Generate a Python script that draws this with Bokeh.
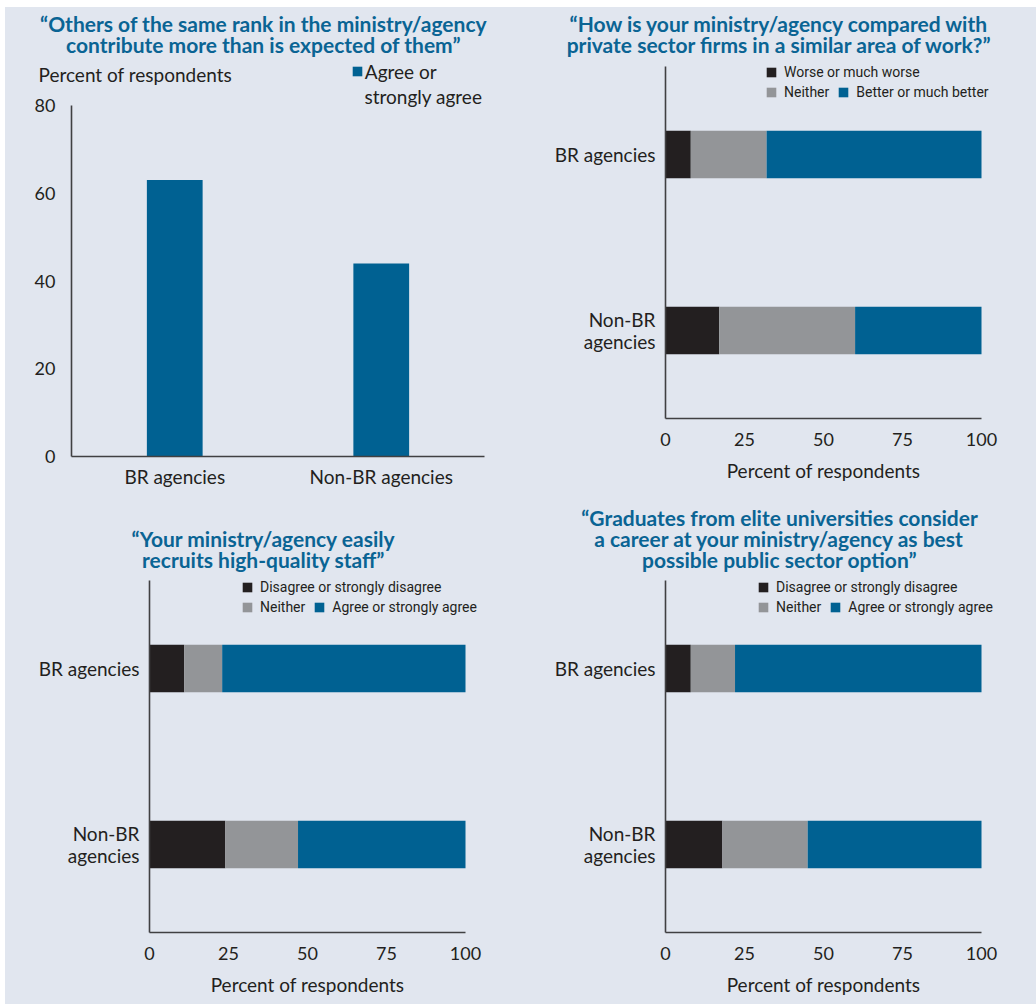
from bokeh.plotting import figure
from bokeh.models import (FixedTicker, Label, Legend, LegendItem,
                          ColumnDataSource, Spacer)
from bokeh.layouts import row, column
from bokeh.embed import file_html
from bokeh.resources import INLINE

# ---------------------------------------------------------------- data
agencies = ["BR agencies", "Non-BR agencies"]
agencies_wrapped = ["BR agencies", "Non-BR\nagencies"]

# "Others of the same rank ... contribute more than is expected of them"
contribute_agree = [63, 44]

# "How is your ministry/agency compared with private sector firms ..."
private_worse = [8, 17]
private_neither = [24, 43]
private_better = [68, 40]

# "Your ministry/agency easily recruits high-quality staff"
recruit_disagree = [11, 24]
recruit_neither = [12, 23]
recruit_agree = [77, 53]

# "Graduates from elite universities consider a career ... best option"
elite_disagree = [8, 18]
elite_neither = [14, 27]
elite_agree = [78, 55]

share_ticks = [0, 20, 40, 60, 80]
pct_ticks = [0, 25, 50, 75, 100]

# ---------------------------------------------------------------- style
BG = "#e1e6ef"
BLUE = "#006192"
GREY = "#939598"
BLACK = "#231f20"
TITLE_BLUE = "#0a6494"
INK = "#231f20"
AXIS = "#404042"
FONT = "Lato"
LEGEND_FONT = "Roboto"
BAR = 0.27


class Panel:
    """One chart cell: the figure fills its cell and the axes sit at fixed
    data locations inside it, so every text can be placed in page pixels."""

    def __init__(self, cell, axes_box, xspan, yspan):
        self.fx0, self.fy0, self.fx1, self.fy1 = cell          # page px
        self.ax0, self.ay0, self.ax1, self.ay1 = axes_box      # left, top, right, bottom
        self.xspan, self.yspan = xspan, yspan
        self.kx = (self.ax1 - self.ax0) / (xspan[1] - xspan[0])
        self.ky = (self.ay1 - self.ay0) / (yspan[1] - yspan[0])
        x_start = xspan[0] - (self.ax0 - self.fx0) / self.kx
        x_end = xspan[1] + (self.fx1 - self.ax1) / self.kx
        y_start = yspan[0] - (self.fy1 - self.ay1) / self.ky
        y_end = yspan[1] + (self.ay0 - self.fy0) / self.ky

        p = figure(width=self.fx1 - self.fx0, height=self.fy1 - self.fy0,
                   x_range=(x_start, x_end), y_range=(y_start, y_end),
                   title=None, output_backend="svg", toolbar_location=None,
                   min_border=0, background_fill_color=BG,
                   border_fill_color=BG, outline_line_color=None)
        if "frame_align" in p.properties():
            p.frame_align = False
        p.grid.grid_line_color = None
        p.xaxis.fixed_location = yspan[0]
        p.xaxis.bounds = xspan
        p.yaxis.fixed_location = xspan[0]
        p.yaxis.bounds = yspan
        for ax in p.axis:
            ax.axis_line_color = AXIS
            ax.axis_line_width = 1.6
            ax.major_tick_line_color = None
            ax.minor_tick_line_color = None
            ax.major_tick_out = 0
            ax.major_tick_in = 0
            ax.minor_tick_out = 0
            ax.minor_tick_in = 0
            ax.major_label_text_font = FONT
            ax.major_label_text_font_size = "18px"
            ax.major_label_text_color = INK
            ax.axis_label_text_font = FONT
            ax.axis_label_text_font_size = "19px"
            ax.axis_label_text_font_style = "normal"
            ax.axis_label_text_color = INK
        self.p = p

    def data(self, sx, sy):
        return (self.xspan[0] + (sx - self.ax0) / self.kx,
                self.yspan[0] + (self.ay1 - sy) / self.ky)

    def offset(self, sx, sy):
        return (sx - self.fx0, self.fy1 - sy)

    def text(self, sx, sy, text, align="left", **kw):
        x, y = self.data(sx, sy)
        style = dict(text_font=FONT, text_font_size="19px", text_color=INK)
        style.update(kw)
        self.p.add_layout(Label(x=x, y=y, text=text, text_align=align,
                                text_baseline="middle", **style))

    def title(self, sx, sy, text):
        self.text(sx, sy, text, align="center", text_font_style="bold",
                  text_font_size="21px", text_color=TITLE_BLUE,
                  text_line_height=0.84)

    def legend_rows(self, rows, sx, first_row_top, standoff, spacing,
                    font=LEGEND_FONT, size="14px"):
        for i, items in enumerate(rows):
            row_bottom = first_row_top + 20 * (i + 1)
            leg = Legend(items=[LegendItem(label=lab, renderers=[r]) for lab, r in items],
                         location=self.offset(sx, row_bottom), orientation="horizontal",
                         glyph_width=12, glyph_height=12, label_height=20,
                         label_width=0, label_standoff=standoff, spacing=spacing,
                         padding=0, margin=0, background_fill_alpha=0,
                         border_line_color=None, label_text_font=font,
                         label_text_font_size=size, label_text_color=INK,
                         label_text_baseline="middle")
            self.p.add_layout(leg)


def stacked_panel(cell, axes_box, title, title_xy, parts, labels, legend_xy):
    pn = Panel(cell, axes_box, (0, 100), (0, len(agencies)))
    p = pn.p
    ypos = [len(agencies) - i - 0.5 for i in range(len(agencies))]
    src = ColumnDataSource(dict(y=ypos, a=parts[0], b=parts[1], c=parts[2]))
    rs = p.hbar_stack(["a", "b", "c"], y="y", height=BAR, source=src,
                      color=[BLACK, GREY, BLUE], line_color=None)

    p.xaxis.ticker = FixedTicker(ticks=pct_ticks)
    p.xaxis.major_label_standoff = 14
    p.xaxis.axis_label = "Percent of respondents"
    p.xaxis.axis_label_standoff = 10
    p.yaxis.ticker = FixedTicker(ticks=ypos)
    p.yaxis.major_label_overrides = {y: lab for y, lab in zip(ypos, agencies_wrapped)}
    p.yaxis.major_label_standoff = 10
    p.yaxis.major_label_text_font_size = "19px"
    p.yaxis.major_label_text_line_height = 0.95

    pn.title(*title_xy, title)
    pn.legend_rows([[(labels[0], rs[0])],
                    [(labels[1], rs[1]), (labels[2], rs[2])]],
                   legend_xy[0], legend_xy[1], standoff=7, spacing=8)
    return p


# ---------------------------------------------------------------- panel 1
pn1 = Panel((5, 7, 518, 500), (71, 105, 484, 456), (0, len(agencies)), (0, 80))
p1 = pn1.p
xpos = [i + 0.5 for i in range(len(agencies))]
bars = p1.vbar(x=xpos, top=contribute_agree, width=BAR, color=BLUE, line_color=None)
p1.xaxis.ticker = FixedTicker(ticks=xpos)
p1.xaxis.major_label_overrides = {x: lab for x, lab in zip(xpos, agencies)}
p1.xaxis.major_label_standoff = 8
p1.xaxis.major_label_text_font_size = "19px"
p1.yaxis.ticker = FixedTicker(ticks=share_ticks)
p1.yaxis.major_label_standoff = 16

pn1.title(263, 33, "\u201cOthers of the same rank in the ministry/agency\n"
                   "contribute more than is expected of them\u201d")
pn1.text(38, 74, "Percent of respondents")
pn1.legend_rows([[("Agree or", bars)]], 350.8, 62.5, standoff=2, spacing=0,
                font=FONT, size="19px")
pn1.text(364, 96, "strongly agree")

# ---------------------------------------------------------------- panels 2-4
p2 = stacked_panel((518, 7, 1036, 500), (665, 66, 981, 418),
                   "\u201cHow is your ministry/agency compared with\n"
                   "private sector firms in a similar area of work?\u201d", (779, 33),
                   [private_worse, private_neither, private_better],
                   ["Worse or much worse", "Neither", "Better or much better"],
                   (765, 62))

p3 = stacked_panel((5, 500, 518, 1004), (149, 580, 465, 932),
                   "\u201cYour ministry/agency easily\n"
                   "recruits high-quality staff\u201d", (263, 548),
                   [recruit_disagree, recruit_neither, recruit_agree],
                   ["Disagree or strongly disagree", "Neither", "Agree or strongly agree"],
                   (241, 577))

p4 = stacked_panel((518, 500, 1036, 1004), (665, 580, 981, 932),
                   "\u201cGraduates from elite universities consider\n"
                   "a career at your ministry/agency as best\n"
                   "possible public sector option\u201d", (779, 538),
                   [elite_disagree, elite_neither, elite_agree],
                   ["Disagree or strongly disagree", "Neither", "Agree or strongly agree"],
                   (757, 577))

grid = column(row(p1, p2, spacing=0), row(p3, p4, spacing=0), spacing=0,
              styles={"background-color": BG})

layout = column(
    Spacer(width=1036, height=7),
    row(Spacer(width=5, height=997), grid, spacing=0),
    spacing=0,
)

open("out.html", "w").write(file_html(layout, INLINE))
